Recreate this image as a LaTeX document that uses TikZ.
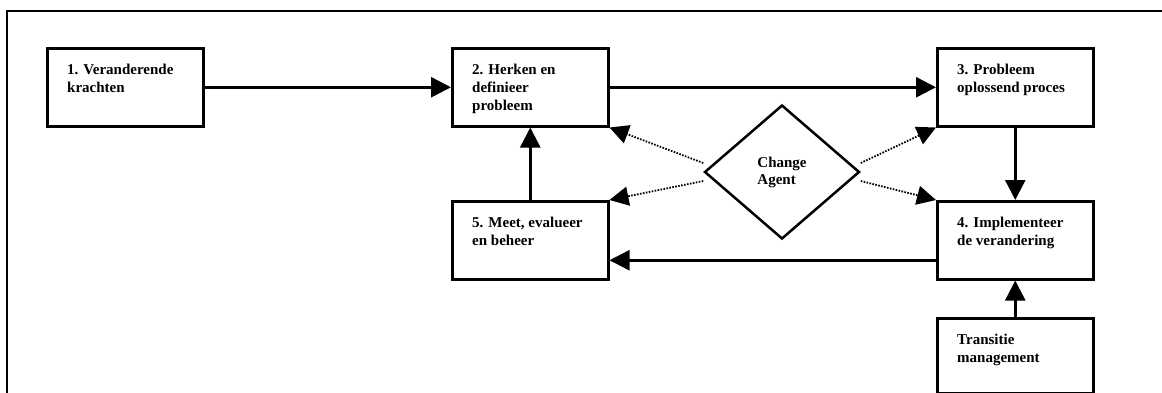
\documentclass[tikz,border=0pt]{standalone}
\usepackage{fontspec}
\setmainfont{Liberation Serif}
\usetikzlibrary{arrows.meta,shapes.geometric}
\begin{document}
\begin{tikzpicture}[x=1pt,y=-1pt,
  box/.style={draw, line width=2.5pt, minimum width=156pt, minimum height=78pt,
    anchor=north west, inner sep=0pt},
  boxtext/.style={anchor=north west, align=left, inner sep=0pt,
    font=\fontsize{15}{18}\selectfont\bfseries},
  flow/.style={line width=2.5pt, -{Triangle[length=20pt,width=20pt]}},
  agentlink/.style={line width=1.8pt, dash pattern=on 1.6pt off 1.4pt,
    -{Triangle[length=19pt,width=19pt]}},
]
\useasboundingbox (0,0) rectangle (1162,392);
\clip (0,0) rectangle (1162,392);

% outer frame (runs past the page on the right and at the bottom)
\draw[line width=2.5pt] (7,400) -- (7,11) -- (1170,11);

% process steps
\node[box] (b1) at (46,47) {};
\node[boxtext] (t1) at ([xshift=21pt,yshift=-17pt]b1.north west) {1. Veranderende\\krachten};

\node[box] (b2) at (451,47) {};
\node[boxtext] (t2) at ([xshift=21pt,yshift=-17pt]b2.north west) {2. Herken en\\definieer\\probleem};

\node[box] (b3) at (936,47) {};
\node[boxtext] (t3) at ([xshift=21pt,yshift=-17pt]b3.north west) {3. Probleem\\oplossend proces};

\node[box] (b4) at (936,200) {};
\node[boxtext] (t4) at ([xshift=21pt,yshift=-17pt]b4.north west) {4. Implementeer\\de verandering};

\node[box] (b5) at (451,200) {};
\node[boxtext] (t5) at ([xshift=21pt,yshift=-17pt]b5.north west) {5. Meet, evalueer\\en beheer};

\node[box, minimum height=75pt] (tm) at (936,317) {};
\node[boxtext] (ttm) at ([xshift=21pt,yshift=-17pt]tm.north west) {Transitie\\management};

% change agent
\node[diamond, draw, line width=2.5pt, minimum width=155pt, minimum height=134pt,
  inner sep=0pt, align=left, font=\fontsize{15}{17}\selectfont\bfseries]
  (agent) at (782,172) {Change\\Agent};

% main cycle
\draw[flow] (b1.east) -- (b2.west);
\draw[flow] (b2.east) -- (b3.west);
\draw[flow] (b3.south) -- (b4.north);
\draw[flow] ([yshift=-20pt]b4.west) -- ([yshift=-20pt]b5.east);
\draw[flow] (b5.north) -- (b2.south);
\draw[flow] (tm.north) -- (b4.south);

% influence of the change agent
\draw[agentlink] ([yshift=9pt]agent.west) -- (b2.south east);
\draw[agentlink] ([yshift=-9pt]agent.west) -- (b5.north east);
\draw[agentlink] ([yshift=9pt]agent.east) -- (b3.south west);
\draw[agentlink] ([yshift=-9pt]agent.east) -- (b4.north west);
\end{tikzpicture}
\end{document}
